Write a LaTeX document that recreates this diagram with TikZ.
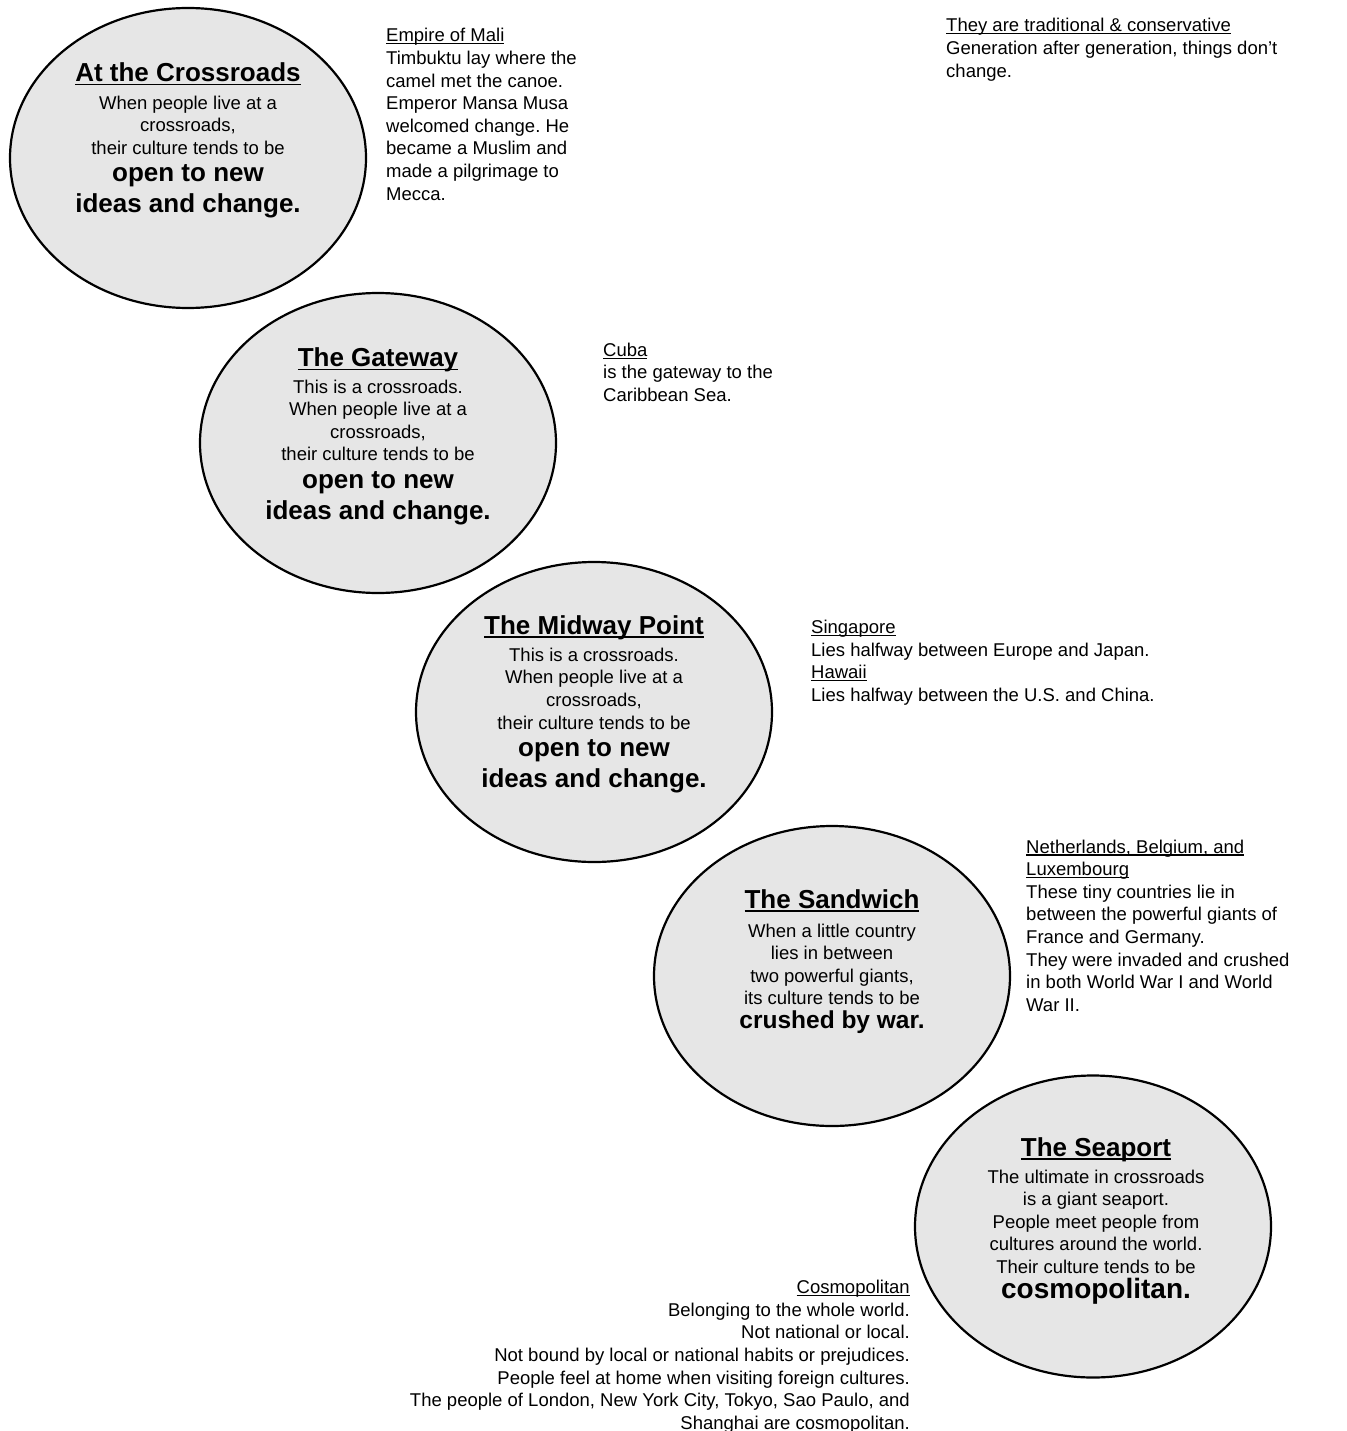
\documentclass[tikz,border=0pt]{standalone}
\usepackage{fontspec}
\setmainfont{Liberation Sans}
\usepackage{xcolor}
\usetikzlibrary{shapes.geometric}

\frenchspacing
\newcommand{\ulin}[1]{\setbox0\hbox{#1}\rlap{\rule[-0.14em]{\wd0}{0.07em}}\box0}
\newcommand{\bodysize}{\fontsize{18.5}{22.6}\selectfont}
\newcommand{\headsize}{\fontsize{26}{30}\selectfont\bfseries}

\begin{document}
\begin{tikzpicture}[x = 1pt, y = -1pt,
  bubble/.style = {ellipse, draw, line width = 2.2pt, fill = bubbleGray,
    minimum width = 356pt, minimum height = 300pt, inner sep = 0pt},
  heading/.style = {anchor = base, inner sep = 0pt, font = \headsize},
  inside/.style = {anchor = north, inner sep = 0pt, align = center, font = \bodysize},
  punch/.style = {anchor = north, inner sep = 0pt, align = center,
    font = \fontsize{#1}{30.7}\selectfont\bfseries},
  punch/.default = 26,
  aside/.style = {anchor = north west, inner sep = 0pt, align = left, font = \bodysize}]

  \definecolor{bubbleGray}{RGB}{230, 230, 230};
  \path[use as bounding box, fill = white] (0, 0) rectangle (1346, 1431);

  % the five bubbles
  \node[bubble] (cross) at (188, 158) {};
  \node[bubble] (gate) at (378, 443) {};
  \node[bubble] (mid) at (594, 712) {};
  \node[bubble] (sand) at (832, 976) {};
  \node[bubble, minimum height = 302pt] (port) at (1093, 1226.5) {};

  % At the Crossroads
  \node[heading] (crossT) at (188, 81.7) {\ulin{At the Crossroads}};
  \node[inside] (crossB) at (188, 95.7) {When people live at a\\ crossroads,\\ their culture tends to be};
  \node[punch] (crossP) at (188, 164.8) {open to new\\ ideas and change.};

  % The Gateway
  \node[heading] (gateT) at (378, 366.7) {\ulin{The Gateway}};
  \node[inside] (gateB) at (378, 379.5) {This is a crossroads.\\ When people live at a\\ crossroads,\\ their culture tends to be};
  \node[punch] (gateP) at (378, 471.3) {open to new\\ ideas and change.};

  % The Midway Point
  \node[heading] (midT) at (594, 634) {\ulin{The Midway Point}};
  \node[inside] (midB) at (594, 647.7) {This is a crossroads.\\ When people live at a\\ crossroads,\\ their culture tends to be};
  \node[punch] (midP) at (594, 739.6) {open to new\\ ideas and change.};

  % The Sandwich
  \node[heading] (sandT) at (832, 908.3) {\ulin{The Sandwich}};
  \node[inside] (sandB) at (832, 923.4) {When a little country\\ lies in between\\ two powerful giants,\\ its culture tends to be};
  \node[punch = 24.5] (sandP) at (832, 1010.8) {crushed by war.};

  % The Seaport
  \node[heading] (portT) at (1096, 1156) {\ulin{The Seaport}};
  \node[inside] (portB) at (1096, 1169.4) {The ultimate in crossroads\\ is a giant seaport.\\ People meet people from\\ cultures around the world.\\ Their culture tends to be};
  \node[punch = 28] (portP) at (1096, 1277.7) {cosmopolitan.};

  % side notes
  \node[aside] (mali) at (386, 28.2) {\ulin{Empire of Mali}\\ Timbuktu lay where the\\ camel met the canoe.\\ Emperor Mansa Musa\\ welcomed change. He\\ became a Muslim and\\ made a pilgrimage to\\ Mecca.};
  \node[aside] (trad) at (946, 18.2) {\ulin{They are traditional \& conservative}\\ Generation after generation, things don’t\\ change.};
  \node[aside] (cuba) at (603, 342.7) {\ulin{Cuba}\\ is the gateway to the\\ Caribbean Sea.};
  \node[aside] (sing) at (811, 620) {\ulin{Singapore}\\ Lies halfway between Europe and Japan.\\ \ulin{Hawaii}\\ Lies halfway between the U.S. and China.};
  \node[aside] (neth) at (1026, 839.4) {\ulin{Netherlands, Belgium, and}\\ \ulin{Luxembourg}\\ These tiny countries lie in\\ between the powerful giants of\\ France and Germany.\\ They were invaded and crushed\\ in both World War I and World\\ War II.};
  \node[aside, anchor = north east, align = right] (cosmo) at (910, 1280) {\ulin{Cosmopolitan}\\ Belonging to the whole world.\\ Not national or local.\\ Not bound by local or national habits or prejudices.\\ People feel at home when visiting foreign cultures.\\ The people of London, New York City, Tokyo, Sao Paulo, and\\ Shanghai are cosmopolitan.};
\end{tikzpicture}
\end{document}
